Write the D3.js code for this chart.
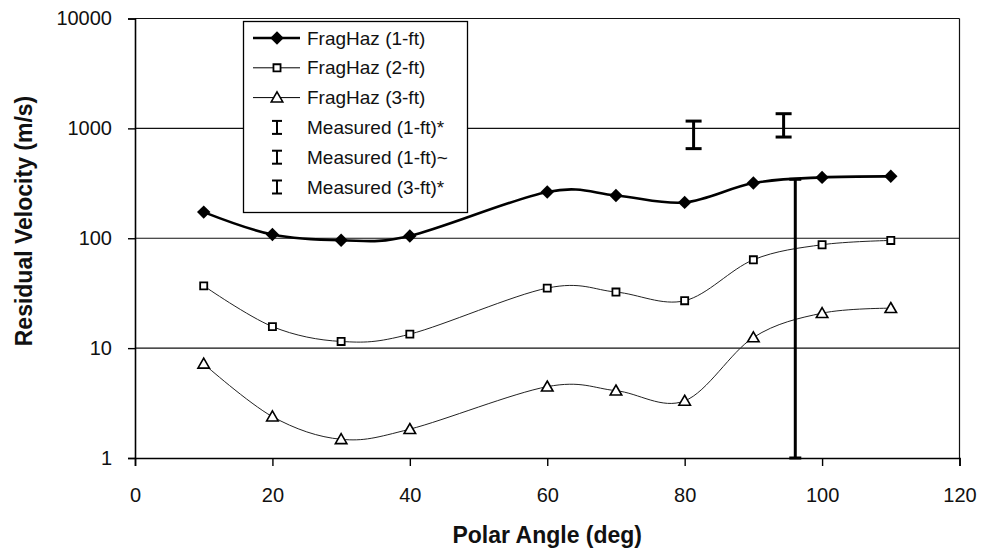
<!DOCTYPE html>
<html>
<head>
<meta charset="utf-8">
<script src="https://cdn.jsdelivr.net/npm/d3@7"></script>
<style>
  html, body { margin: 0; padding: 0; background: #fff; }
  svg { display: block; font-family: "Liberation Sans", Arial, Helvetica, sans-serif; }
</style>
</head>
<body>
<svg id="chart" width="982" height="552"></svg>
<script>
// ---- data ----
const angles = [10, 20, 30, 40, 60, 70, 80, 90, 100, 110];
const fragHaz1 = [173, 108, 96, 105, 264, 245, 212, 318, 358, 366];
const fragHaz2 = [36.9, 15.7, 11.5, 13.4, 35.2, 32.4, 27, 63.7, 87.3, 95.5];
const fragHaz3 = [7.2, 2.38, 1.48, 1.83, 4.46, 4.1, 3.31, 12.5, 20.8, 23.1];

const measuredNames = ["Measured (1-ft)*", "Measured (1-ft)~", "Measured (3-ft)*"];
const measuredAngle = [81.3, 94.4, 96.1];
const measuredLow = [654, 834, 1];
const measuredHigh = [1165, 1360, 344];

const xTicks = [0, 20, 40, 60, 80, 100, 120];
const yTicks = [1, 10, 100, 1000, 10000];
const seriesNames = ["FragHaz (1-ft)", "FragHaz (2-ft)", "FragHaz (3-ft)"];
const xTitle = "Polar Angle (deg)";
const yTitle = "Residual Velocity (m/s)";

// ---- layout ----
const svg = d3.select("#chart");
const L = 135, R = 959.5, T = 18.5, B = 458;
const x = d3.scaleLinear().domain([0, 120]).range([L, R]);
const y = d3.scaleLog().domain([1, 10000]).range([B, T]);

// gridlines
svg.append("g").selectAll("line").data(yTicks.slice(1)).join("line")
  .attr("x1", L).attr("x2", R)
  .attr("y1", d => y(d)).attr("y2", d => y(d))
  .attr("stroke", "#111").attr("stroke-width", 1.2);

// right border
svg.append("line").attr("x1", R).attr("x2", R).attr("y1", T).attr("y2", B)
  .attr("stroke", "#111").attr("stroke-width", 1.2);

// y axis
const yAxis = d3.axisLeft(y).tickValues(yTicks).tickFormat(d3.format("d")).tickSize(7).tickPadding(16);
const gy = svg.append("g").attr("transform", `translate(${L},0)`).call(yAxis);
gy.select(".domain").attr("stroke", "#000").attr("stroke-width", 1.6);
gy.selectAll(".tick line").attr("stroke", "#000").attr("stroke-width", 1.4);
gy.selectAll(".tick text").attr("font-size", 20).attr("fill", "#111")
  .style("font-family", "'Liberation Sans', Arial, sans-serif");

// x axis
const xAxis = d3.axisBottom(x).tickValues(xTicks).tickFormat(d3.format("d")).tickSize(8).tickPadding(22);
const gx = svg.append("g").attr("transform", `translate(0,${B})`).call(xAxis);
gx.select(".domain").attr("stroke", "#000").attr("stroke-width", 1.6);
gx.selectAll(".tick line").attr("stroke", "#000").attr("stroke-width", 1.4);
gx.selectAll(".tick text").attr("font-size", 20).attr("fill", "#111")
  .style("font-family", "'Liberation Sans', Arial, sans-serif");

// titles
svg.append("text").attr("x", (L + R) / 2).attr("y", 543).attr("text-anchor", "middle")
  .attr("font-size", 23).attr("font-weight", "bold").attr("fill", "#111").text(xTitle);
svg.append("text").attr("transform", `translate(32,221) rotate(-90)`).attr("text-anchor", "middle")
  .attr("font-size", 23).attr("font-weight", "bold").attr("fill", "#111").text(yTitle);

// lines
const line = d3.line().x(d => x(d[0])).y(d => y(d[1])).curve(d3.curveCardinal.tension(0));
const s1 = angles.map((a, i) => [a, fragHaz1[i]]);
const s2 = angles.map((a, i) => [a, fragHaz2[i]]);
const s3 = angles.map((a, i) => [a, fragHaz3[i]]);

svg.append("path").datum(s2).attr("d", line).attr("fill", "none").attr("stroke", "#222").attr("stroke-width", 1);
svg.append("path").datum(s3).attr("d", line).attr("fill", "none").attr("stroke", "#222").attr("stroke-width", 1);
svg.append("path").datum(s1).attr("d", line).attr("fill", "none").attr("stroke", "#000").attr("stroke-width", 2.6);

// markers
const diamond = d3.symbol().type(d3.symbolDiamond2).size(115);
const square = d3.symbol().type(d3.symbolSquare2).size(64);
const triangle = d3.symbol().type(d3.symbolTriangle2).size(95);

svg.append("g").selectAll("path").data(s1).join("path")
  .attr("transform", d => `translate(${x(d[0])},${y(d[1])})`)
  .attr("d", diamond).attr("fill", "#000");
svg.append("g").selectAll("path").data(s2).join("path")
  .attr("transform", d => `translate(${x(d[0])},${y(d[1])})`)
  .attr("d", square).attr("fill", "#fff").attr("stroke", "#000").attr("stroke-width", 1.8);
svg.append("g").selectAll("path").data(s3).join("path")
  .attr("transform", d => `translate(${x(d[0])},${y(d[1]) + 1})`)
  .attr("d", triangle).attr("fill", "#fff").attr("stroke", "#000").attr("stroke-width", 1.6);

// measured error bars
const capW = [16, 16, 12];
const eb = svg.append("g");
measuredAngle.forEach((a, i) => {
  const cx = x(a), w = capW[i] / 2;
  eb.append("line").attr("x1", cx).attr("x2", cx).attr("y1", y(measuredLow[i])).attr("y2", y(measuredHigh[i]))
    .attr("stroke", "#000").attr("stroke-width", 3);
  eb.append("line").attr("x1", cx - w).attr("x2", cx + w).attr("y1", y(measuredLow[i])).attr("y2", y(measuredLow[i]))
    .attr("stroke", "#000").attr("stroke-width", 3);
  eb.append("line").attr("x1", cx - w).attr("x2", cx + w).attr("y1", y(measuredHigh[i])).attr("y2", y(measuredHigh[i]))
    .attr("stroke", "#000").attr("stroke-width", 3);
});

// legend
const lg = svg.append("g");
lg.append("rect").attr("x", 243.5).attr("y", 21.5).attr("width", 224).attr("height", 191)
  .attr("fill", "#fff").attr("stroke", "#000").attr("stroke-width", 1.3);
const rowY = d3.range(6).map(i => 38 + i * 29.8);
const sx0 = 253, sx1 = 300, mx = 277, tx = 307;
const lineStyles = [2.6, 1, 1];
const markers = [diamond, square, triangle];
seriesNames.forEach((name, i) => {
  lg.append("line").attr("x1", sx0).attr("x2", sx1).attr("y1", rowY[i]).attr("y2", rowY[i])
    .attr("stroke", "#000").attr("stroke-width", lineStyles[i]);
  const m = lg.append("path").attr("transform", `translate(${mx},${rowY[i] + (i === 2 ? 1 : 0)})`).attr("d", markers[i]);
  if (i === 0) m.attr("fill", "#000");
  else m.attr("fill", "#fff").attr("stroke", "#000").attr("stroke-width", i === 1 ? 1.8 : 1.6);
  lg.append("text").attr("x", tx).attr("y", rowY[i]).attr("dominant-baseline", "central")
    .attr("font-size", 19).attr("fill", "#111").text(name);
});
measuredNames.forEach((name, j) => {
  const yy = rowY[3 + j];
  lg.append("line").attr("x1", mx).attr("x2", mx).attr("y1", yy - 6.5).attr("y2", yy + 6.5)
    .attr("stroke", "#000").attr("stroke-width", 2);
  lg.append("line").attr("x1", mx - 5).attr("x2", mx + 5).attr("y1", yy - 6.5).attr("y2", yy - 6.5)
    .attr("stroke", "#000").attr("stroke-width", 2);
  lg.append("line").attr("x1", mx - 5).attr("x2", mx + 5).attr("y1", yy + 6.5).attr("y2", yy + 6.5)
    .attr("stroke", "#000").attr("stroke-width", 2);
  lg.append("text").attr("x", tx).attr("y", yy).attr("dominant-baseline", "central")
    .attr("font-size", 19).attr("fill", "#111").text(name);
});
</script>
</body>
</html>
